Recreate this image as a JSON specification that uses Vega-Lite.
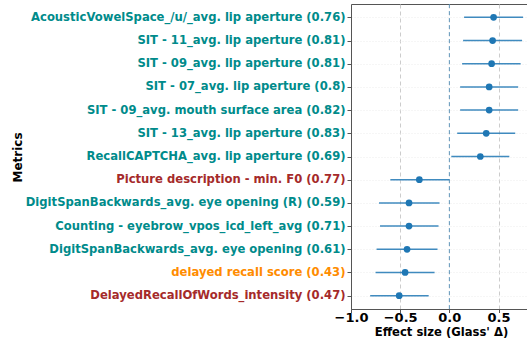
{
  "$schema": "https://vega.github.io/schema/vega-lite/v6.json",
  "autosize": "none",
  "width": 177,
  "height": 305,
  "padding": {"left": 351, "top": 4, "right": 0, "bottom": 33},
  "background": "white",
  "config": {
    "font": "DejaVu Sans",
    "view": {"stroke": "#555555", "strokeWidth": 1}
  },
  "datasets": {
    "ref": [{"zero": 0}]
  },
  "data": {
    "values": [
      {"metric": "AcousticVowelSpace_/u/_avg. lip aperture (0.76)", "effect": 0.45, "lo": 0.15, "hi": 0.75},
      {"metric": "SIT - 11_avg. lip aperture (0.81)", "effect": 0.44, "lo": 0.14, "hi": 0.74},
      {"metric": "SIT - 09_avg. lip aperture (0.81)", "effect": 0.43, "lo": 0.13, "hi": 0.725},
      {"metric": "SIT - 07_avg. lip aperture (0.8)", "effect": 0.405, "lo": 0.11, "hi": 0.7},
      {"metric": "SIT - 09_avg. mouth surface area (0.82)", "effect": 0.405, "lo": 0.11, "hi": 0.7},
      {"metric": "SIT - 13_avg. lip aperture (0.83)", "effect": 0.375, "lo": 0.08, "hi": 0.67},
      {"metric": "RecallCAPTCHA_avg. lip aperture (0.69)", "effect": 0.315, "lo": 0.02, "hi": 0.61},
      {"metric": "Picture description - min. F0 (0.77)", "effect": -0.305, "lo": -0.6, "hi": 0.0},
      {"metric": "DigitSpanBackwards_avg. eye opening (R) (0.59)", "effect": -0.41, "lo": -0.715, "hi": -0.1},
      {"metric": "Counting - eyebrow_vpos_icd_left_avg (0.71)", "effect": -0.41, "lo": -0.705, "hi": -0.11},
      {"metric": "DigitSpanBackwards_avg. eye opening (0.61)", "effect": -0.43, "lo": -0.74, "hi": -0.12},
      {"metric": "delayed recall score (0.43)", "effect": -0.45, "lo": -0.75, "hi": -0.15},
      {"metric": "DelayedRecallOfWords_intensity (0.47)", "effect": -0.51, "lo": -0.805, "hi": -0.21}
    ]
  },
  "layer": [
    {
      "mark": {"type": "rule", "color": "#1f77b4", "strokeWidth": 1.5, "opacity": 0.85},
      "encoding": {
        "y": {
          "field": "metric",
          "type": "nominal",
          "sort": null,
          "scale": {"type": "point", "padding": 0.575},
          "axis": {
            "title": "Metrics",
            "titleFontSize": 12,
            "titleFontWeight": "bold",
            "titleColor": "black",
            "titleX": -334,
            "titleY": 153,
            "titleAngle": 270,
            "titleAlign": "center",
            "titleBaseline": "middle",
            "labelFontSize": 11.6,
            "labelFontWeight": "bold",
            "labelPadding": 2,
            "labelLimit": 400,
            "labelColor": {
              "condition": [
                {"test": "datum.value === 'Picture description - min. F0 (0.77)' || datum.value === 'DelayedRecallOfWords_intensity (0.47)'", "value": "#a52a2a"},
                {"test": "datum.value === 'delayed recall score (0.43)'", "value": "#ff8c00"}
              ],
              "value": "#008b8b"
            },
            "tickSize": 4,
            "tickColor": "#555555",
            "domainColor": "#555555",
            "grid": true,
            "gridColor": "#e8e8e8",
            "gridDash": [1, 2],
            "gridWidth": 0.8
          }
        },
        "x": {
          "field": "lo",
          "type": "quantitative",
          "scale": {"domain": [-1, 0.8], "nice": false, "zero": false},
          "axis": {
            "title": "Effect size (Glass' Δ)",
            "titleFontSize": 11.6,
            "titleFontWeight": "bold",
            "titleColor": "black",
            "titleX": 90,
            "titleY": 23,
            "titleBaseline": "middle",
            "values": [-1, -0.5, 0, 0.5],
            "format": ".1f",
            "labelFontSize": 13,
            "labelFontWeight": "bold",
            "labelColor": "black",
            "labelPadding": -1,
            "labelFlush": false,
            "labelOverlap": false,
            "tickSize": 3.5,
            "tickColor": "#555555",
            "domainColor": "#555555",
            "grid": true,
            "gridColor": "#cccccc",
            "gridDash": [4, 3],
            "gridWidth": 1
          }
        },
        "x2": {"field": "hi"}
      }
    },
    {
      "mark": {"type": "point", "filled": true, "color": "#1f77b4", "size": 45, "opacity": 1},
      "encoding": {
        "x": {"field": "effect", "type": "quantitative"},
        "y": {"field": "metric", "type": "nominal", "sort": null}
      }
    },
    {
      "data": {"name": "ref"},
      "mark": {"type": "rule", "color": "#1f77b4", "strokeDash": [4, 3], "opacity": 0.6, "strokeWidth": 1},
      "encoding": {"x": {"field": "zero", "type": "quantitative"}}
    }
  ]
}
